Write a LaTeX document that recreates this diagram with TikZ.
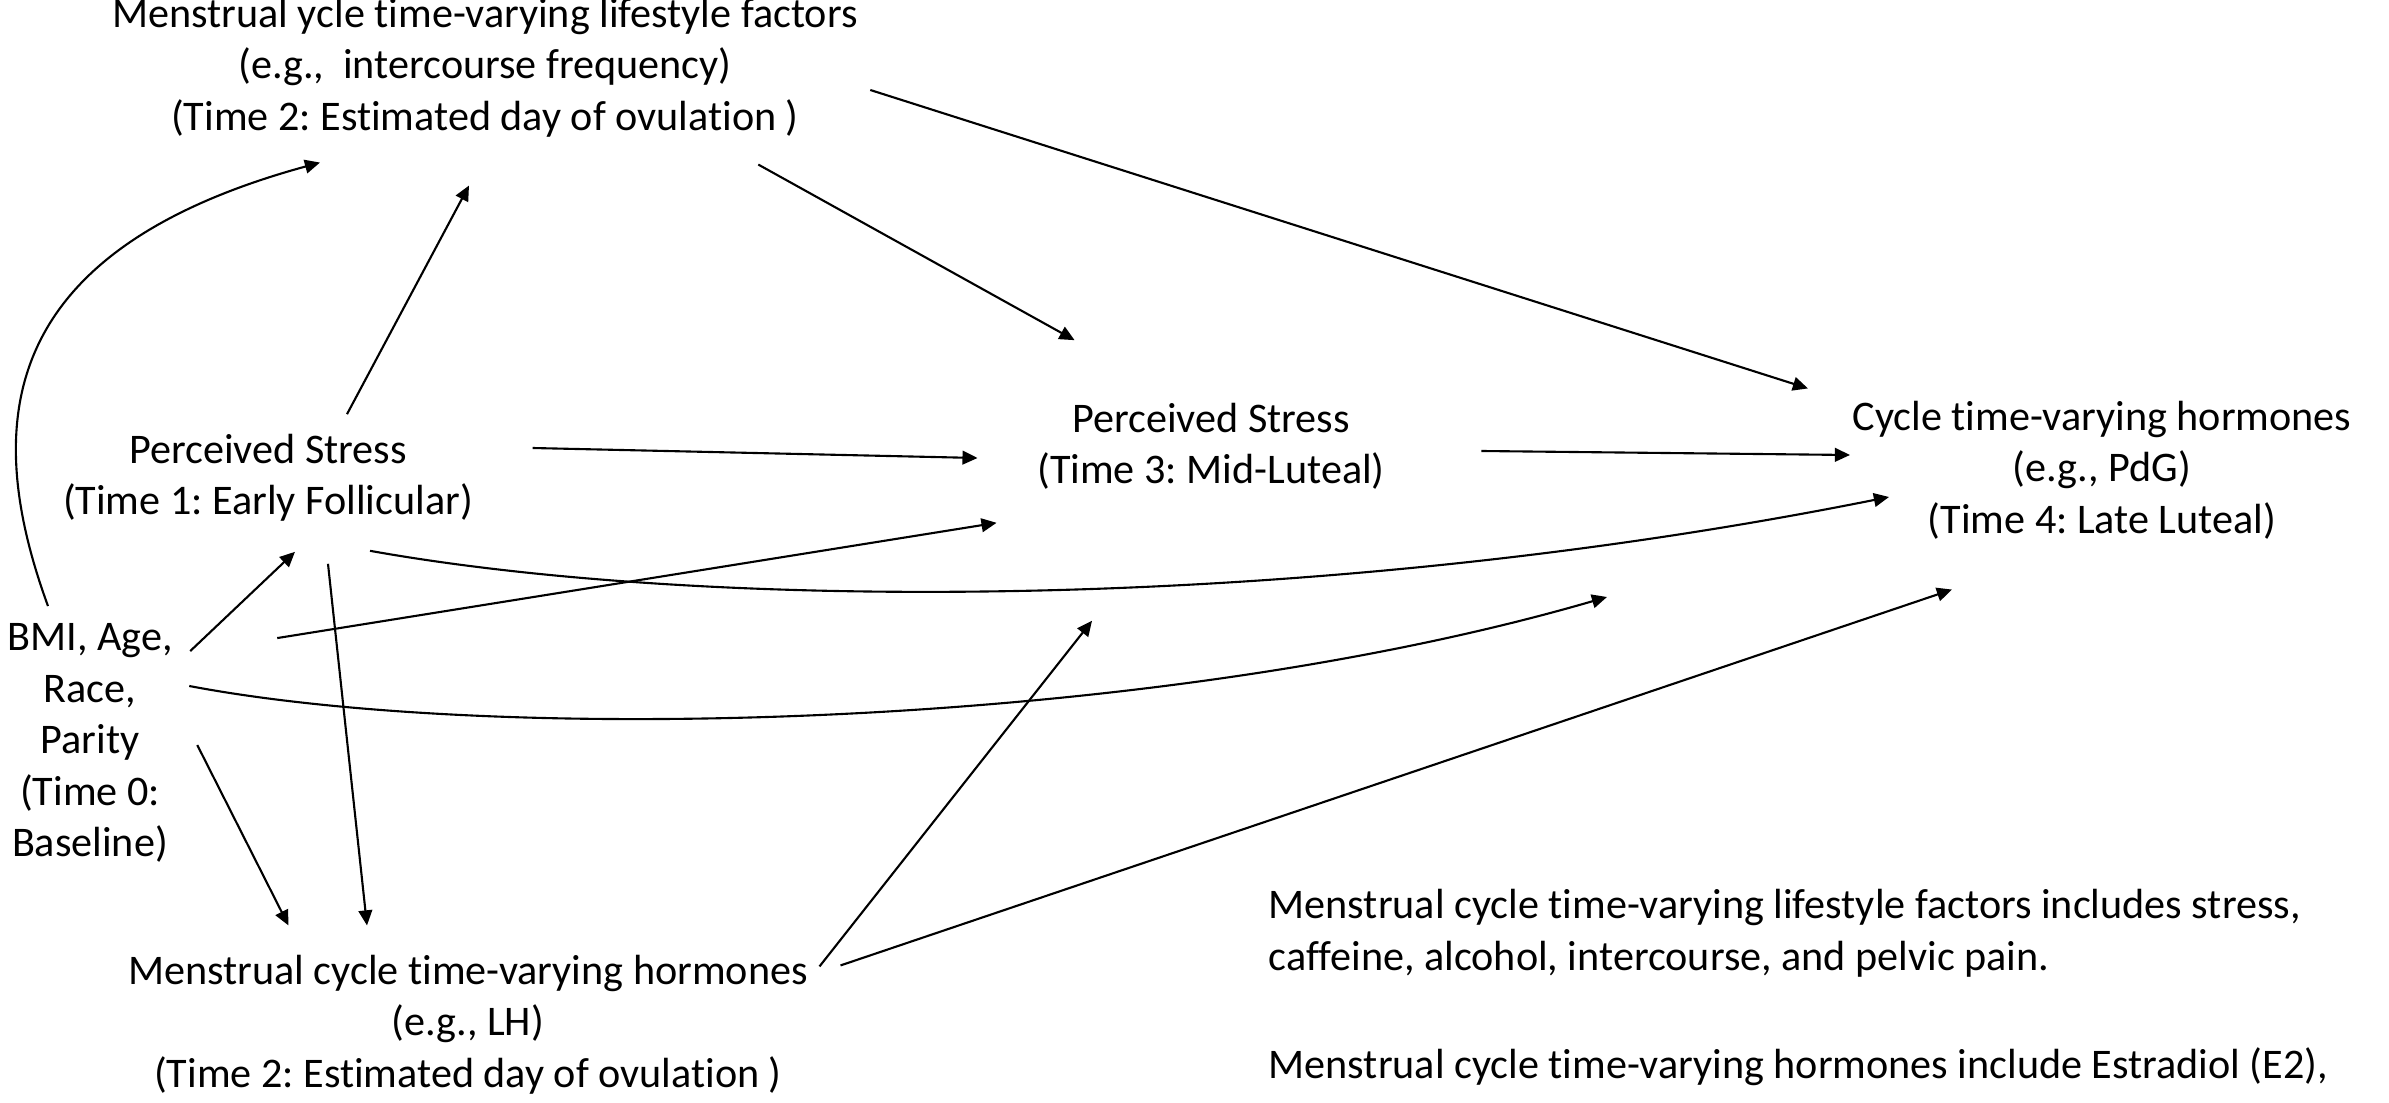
\documentclass[tikz,border=0pt]{standalone}
\usepackage{fontspec}
\setmainfont{Carlito}[Ligatures=NoCommon]
\usetikzlibrary{arrows.meta}
\frenchspacing

\begin{document}
\begin{tikzpicture}[
    var/.style={align=center, inner sep=0pt, font=\fontsize{12pt}{14.65pt}\selectfont, execute at begin node=\strut, execute at end node=\strut},
    note/.style={align=left, anchor=north west, inner sep=0pt, font=\fontsize{12pt}{14.65pt}\selectfont, execute at begin node=\strut, execute at end node=\strut},
    rel/.style={draw, line width=0.6pt, -{Triangle[length=4.3pt, width=3.9pt]}}
]
    \useasboundingbox (0,0) rectangle (23.89,-11.03);

    \node[var] (life)    at (4.85,-0.72)  {Menstrual ycle time-varying lifestyle factors\\(e.g.,~ intercourse frequency)\\(Time 2: Estimated day of ovulation )};
    \node[var] (stress1) at (2.68,-4.82)  {Perceived Stress\\(Time 1: Early Follicular)};
    \node[var] (stress3) at (12.11,-4.51) {Perceived Stress\\(Time 3: Mid-Luteal)};
    \node[var] (horm4)   at (21.02,-4.75) {Cycle time-varying hormones\\(e.g., PdG)\\(Time 4: Late Luteal)};
    \node[var] (base)    at (0.90,-7.48)  {BMI, Age,\\Race,\\Parity\\(Time 0:\\Baseline)};
    \node[var] (horm2)   at (4.68,-10.29) {Menstrual cycle time-varying hormones\\(e.g., LH)\\(Time 2: Estimated day of ovulation )};
    \node[note] (note1)  at (12.68,-8.89) {Menstrual cycle time-varying lifestyle factors includes stress,\\caffeine, alcohol, intercourse, and pelvic pain.};
    \node[note] (note2)  at (12.68,-10.42) {Menstrual cycle time-varying hormones include Estradiol (E2),};
    \coordinate (late) at (16.07,-5.97);

    \draw[rel] ([shift={(-0.42,0.17)}]base.north) .. controls (-0.20,-4.20) and (0,-2.50) .. ([shift={(-1.65,-0.16)}]life.south);
    \draw[rel] ([shift={(0.79,0.19)}]stress1.north) -- ([shift={(-0.16,-0.39)}]life.south);
    \draw[rel] ([shift={(-1.00,-0.18)}]life.south east) -- ([shift={(0.38,0.62)}]stress3.north west);
    \draw[rel] ([shift={(0.12,-0.18)}]life.east) -- ([shift={(-0.44,0.12)}]horm4.north west);
    \draw[rel] ([shift={(0.59,0.34)}]stress1.east) -- ([shift={(-0.59,-0.07)}]stress3.west);
    \draw[rel] ([shift={(0.96,0)}]stress3.east) -- ([shift={(-0.02,0.20)}]horm4.west);
    \draw[rel] ([shift={(1.02,-0.20)}]stress1.south) .. controls (7.00,-6.10) and (13.00,-6.15) .. ([shift={(0.37,-0.22)}]horm4.west);
    \draw[rel] ([shift={(0.17,-0.28)}]base.north east) -- ([shift={(0.27,-0.21)}]stress1.south);
    \draw[rel] ([shift={(1.04,-0.15)}]base.north east) -- ([shift={(-0.40,-0.23)}]stress3.south west);
    \draw[rel] ([shift={(0.16,0.62)}]base.east) .. controls (5.00,-7.45) and (11.50,-7.30) .. (late);
    \draw[rel] ([shift={(0.24,0.03)}]base.east) -- ([shift={(1.61,0.29)}]horm2.north west);
    \draw[rel] ([shift={(0.60,-0.33)}]stress1.south) -- ([shift={(-1.01,0.29)}]horm2.north);
    \draw[rel] ([shift={(0.11,-0.12)}]horm2.north east) -- ([shift={(-1.19,-1.21)}]stress3.south);
    \draw[rel] ([shift={(0.32,-0.11)}]horm2.north east) -- ([shift={(-1.50,-0.40)}]horm4.south);
\end{tikzpicture}
\end{document}
